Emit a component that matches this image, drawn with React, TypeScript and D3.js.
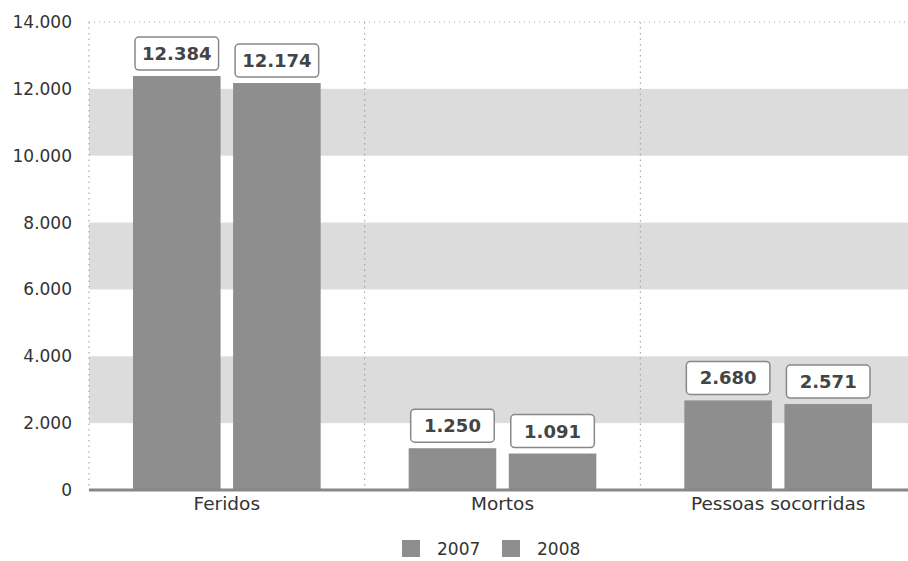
import React from "react";
import * as d3 from "d3";

const categories = ["Feridos", "Mortos", "Pessoas socorridas"];
const seriesNames = ["2007", "2008"];
const values2007 = [12384, 1250, 2680];
const values2008 = [12174, 1091, 2571];
const yTicks = [0, 2000, 4000, 6000, 8000, 10000, 12000, 14000];

const W = 908;
const H = 561;
const left = 89;
const right = 916;
const top = 22;
const bottom = 490;

const fmt = (v: number) => {
  const s = String(v);
  return s.replace(/\B(?=(\d{3})+(?!\d))/g, ".");
};

export default function App() {
  const x = d3.scaleBand<string>().domain(categories).range([left, right]).paddingInner(0).paddingOuter(0);
  const inner = d3
    .scaleBand<string>()
    .domain(seriesNames)
    .range([44, x.bandwidth() - 44])
    .paddingInner(0.125);
  const y = d3.scaleLinear().domain([0, 14000]).range([bottom, top]);
  const series = [values2007, values2008];
  const font = "'DejaVu Sans', Verdana, sans-serif";
  const barColor = "#8e8e8e";
  const bandColor = "#dcdcdc";

  return (
    <svg width={W} height={H} style={{ position: "absolute", left: 0, top: 0, background: "#fff" }}>
      {/* alternating bands */}
      {[[2000, 4000], [6000, 8000], [10000, 12000]].map(([a, b], i) => (
        <rect key={i} x={left} y={y(b)} width={W - left} height={y(a) - y(b)} fill={bandColor} />
      ))}
      {/* top dotted line */}
      <line x1={left} x2={W} y1={y(14000)} y2={y(14000)} stroke="#aaa" strokeDasharray="1,4" />
      {/* vertical dotted separators */}
      {categories.map((c) => (
        <line key={c} x1={x(c)!} x2={x(c)!} y1={top} y2={bottom} stroke="#999" strokeDasharray="1.5,4" />
      ))}
      {/* y tick labels */}
      {yTicks.map((t) => (
        <text key={t} x={72} y={y(t) + 6} textAnchor="end" fontFamily={font} fontSize={17} fill="#333">
          {fmt(t)}
        </text>
      ))}
      {/* bars */}
      {categories.map((c, ci) =>
        seriesNames.map((s, si) => {
          const v = series[si][ci];
          const bx = x(c)! + inner(s)!;
          const bw = inner.bandwidth();
          const by = y(v);
          return (
            <g key={c + s}>
              <rect x={bx} y={by} width={bw} height={bottom - by} fill={barColor} />
              <rect
                x={bx + 2}
                y={by - 39}
                width={bw - 4}
                height={33}
                rx={4}
                fill="#fff"
                stroke="#888"
                strokeWidth={1.5}
              />
              <text
                x={bx + bw / 2}
                y={by - 16}
                textAnchor="middle"
                fontFamily={font}
                fontSize={18}
                fill="#444"
                fontWeight="bold"
              >
                {fmt(v)}
              </text>
            </g>
          );
        })
      )}
      {/* baseline */}
      <line x1={left} x2={W} y1={bottom} y2={bottom} stroke="#888" strokeWidth={3} />
      {/* category labels */}
      {categories.map((c) => (
        <text
          key={c}
          x={x(c)! + x.bandwidth() / 2}
          y={510}
          textAnchor="middle"
          fontFamily={font}
          fontSize={18.5}
          fill="#333"
        >
          {c}
        </text>
      ))}
      {/* legend */}
      {seriesNames.map((s, i) => (
        <g key={s} transform={`translate(${402 + i * 100},540)`}>
          <rect x={0} y={0} width={18} height={17} fill={barColor} />
          <text x={35} y={15} fontFamily={font} fontSize={17} fill="#333">
            {s}
          </text>
        </g>
      ))}
    </svg>
  );
}
